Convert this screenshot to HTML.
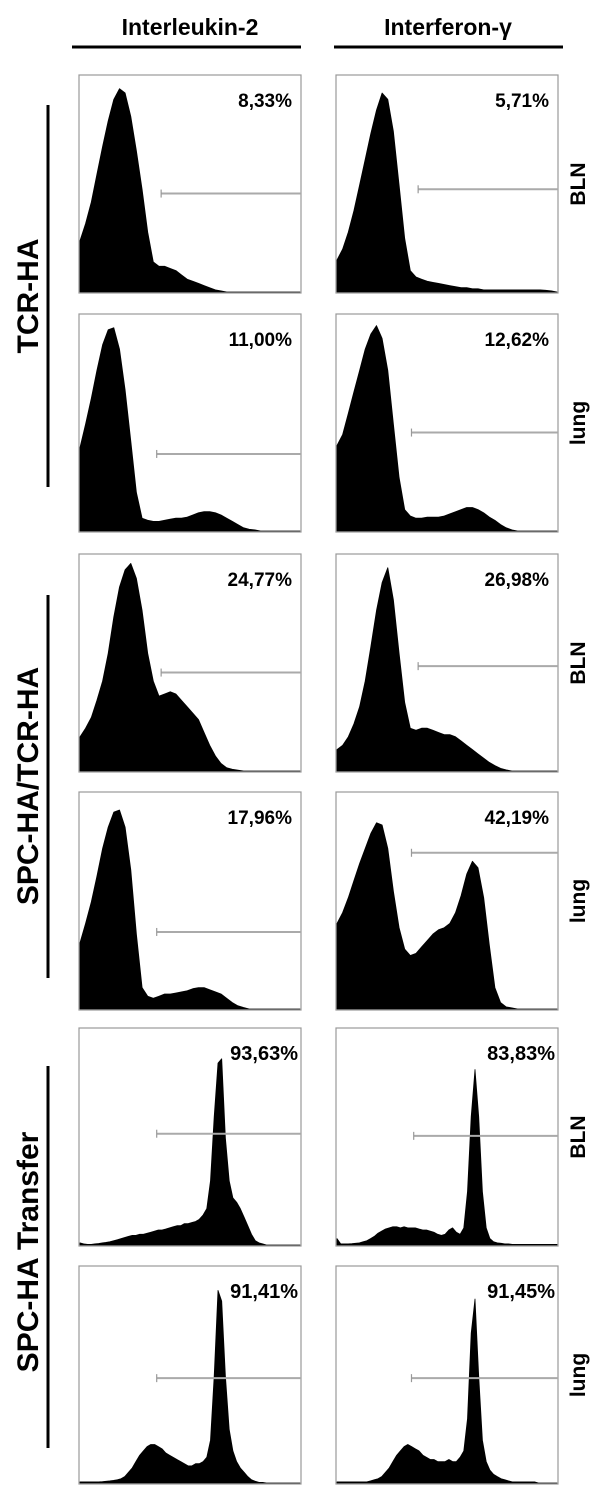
<!DOCTYPE html>
<html><head><meta charset="utf-8"><style>
html,body{margin:0;padding:0;background:#fff;}
svg{display:block;font-family:"Liberation Sans",Arial,sans-serif;}
</style></head><body>
<svg id="fig" width="600" height="1490" viewBox="0 0 600 1490">
<g>
<text x="190" y="35" text-anchor="middle" font-size="23" font-weight="bold">Interleukin-2</text>
<line x1="72" y1="47" x2="301" y2="47" stroke="#000" stroke-width="3"/>
<text x="448" y="35" text-anchor="middle" font-size="23" font-weight="bold">Interferon-γ</text>
<line x1="334" y1="47" x2="563" y2="47" stroke="#000" stroke-width="3"/>
</g>
<g>
<line x1="48" y1="105" x2="48" y2="487" stroke="#000" stroke-width="3"/>
<text transform="translate(38,296) rotate(-90)" text-anchor="middle" font-size="30" font-weight="bold">TCR-HA</text>
<line x1="48" y1="595" x2="48" y2="978" stroke="#000" stroke-width="3"/>
<text transform="translate(38,786) rotate(-90)" text-anchor="middle" font-size="30" font-weight="bold">SPC-HA/TCR-HA</text>
<line x1="48" y1="1066" x2="48" y2="1448" stroke="#000" stroke-width="3"/>
<text transform="translate(38,1252) rotate(-90)" text-anchor="middle" font-size="30" font-weight="bold">SPC-HA Transfer</text>
</g>
<g id="panels"></g>
</svg>
<script>
// Histogram heights (fraction of panel height), uniform bins across the x range
const tcrBlnIl2 = [.24,.32,.42,.55,.68,.80,.90,.95,.93,.82,.66,.48,.28,.14,.12,.12,.11,.10,.08,.06,.05,.04,.03,.02,.01,.005,0,0,0,0,0,0,0,0,0,0,0,0,0,0];
const tcrBlnIfn = [.15,.2,.28,.38,.5,.62,.74,.85,.93,.90,.75,.5,.25,.1,.07,.06,.05,.045,.04,.035,.03,.025,.02,.02,.015,.015,.01,.01,.01,.01,.01,.01,.01,.01,.01,.01,.01,.008,.005,0];
const tcrLungIl2 = [.39,.5,.62,.75,.87,.94,.95,.85,.66,.42,.18,.06,.05,.045,.045,.05,.055,.06,.06,.065,.075,.085,.09,.09,.085,.075,.06,.045,.03,.015,.008,.005,0,0,0,0,0,0,0,0];
const tcrLungIfn = [.4,.45,.55,.65,.75,.85,.92,.96,.9,.75,.5,.25,.1,.07,.06,.06,.065,.065,.065,.07,.08,.09,.1,.11,.11,.1,.085,.065,.05,.03,.015,.005,0,0,0,0,0,0,0,0];
const spcBlnIl2 = [.16,.2,.25,.33,.42,.55,.72,.86,.94,.97,.9,.75,.55,.42,.35,.36,.37,.36,.33,.3,.27,.24,.18,.12,.07,.035,.015,.008,.004,0,0,0,0,0,0,0,0,0,0,0];
const spcBlnIfn = [.1,.12,.16,.22,.3,.42,.58,.75,.88,.95,.8,.55,.32,.2,.19,.2,.2,.19,.18,.17,.17,.16,.14,.12,.1,.08,.06,.04,.025,.012,.005,0,0,0,0,0,0,0,0,0];
const spcLungIl2 = [.31,.4,.5,.62,.75,.85,.92,.93,.85,.65,.35,.1,.06,.05,.06,.07,.07,.075,.08,.085,.095,.1,.1,.09,.08,.07,.05,.03,.015,.007,0,0,0,0,0,0,0,0,0,0];
const spcLungIfn = [.4,.45,.52,.6,.68,.75,.82,.87,.86,.75,.55,.38,.28,.25,.26,.29,.32,.35,.37,.38,.4,.45,.53,.63,.69,.66,.52,.3,.1,.03,.01,.005,0,0,0,0,0,0,0,0];
const trBlnIl2 = [.01,.005,.003,.003,.005,.007,.01,.012,.015,.02,.025,.03,.035,.04,.045,.045,.05,.05,.055,.06,.065,.07,.07,.075,.08,.085,.09,.09,.1,.1,.105,.11,.12,.14,.17,.3,.6,.85,.87,.5,.3,.22,.2,.17,.13,.09,.05,.02,.01,.005,0,0,0,0,0,0,0,0,0,0];
const trBlnIfn = [.03,.005,.005,.005,.006,.008,.01,.015,.02,.03,.04,.055,.065,.075,.08,.085,.085,.08,.085,.08,.08,.08,.075,.07,.07,.065,.06,.05,.045,.05,.07,.08,.06,.05,.08,.25,.6,.82,.6,.25,.08,.03,.015,.01,.008,.005,.005,.003,.003,.003,.003,.003,.003,.003,.003,.003,.003,.003,.003,.003];
const trLungIl2 = [.005,.005,.005,.005,.005,.005,.006,.008,.01,.012,.015,.02,.03,.05,.07,.1,.13,.15,.17,.18,.18,.17,.16,.14,.13,.12,.11,.1,.09,.08,.08,.09,.09,.1,.12,.2,.5,.9,.85,.5,.25,.15,.1,.07,.05,.03,.015,.008,.003,.003,0,0,0,0,0,0,0,0,0,0];
const trLungIfn = [.005,.005,.005,.005,.005,.005,.005,.005,.005,.01,.015,.02,.03,.05,.07,.1,.13,.15,.17,.18,.17,.16,.15,.13,.12,.11,.11,.1,.1,.1,.11,.1,.1,.12,.15,.3,.7,.86,.5,.2,.1,.06,.04,.03,.02,.015,.01,.005,.005,.005,.005,.005,.005,.005,0,0,0,0,0,0];
const percentLabels = ["8,33%","5,71%","11,00%","12,62%","24,77%","26,98%","17,96%","42,19%","93,63%","83,83%","91,41%","91,45%"];
const gateLevels = [.46,.48,.36,.46,.46,.49,.36,.73,.52,.51,.49,.49];   // gate bar height (fraction)
const gateStarts = [.37,.37,.35,.34,.37,.37,.35,.34,.35,.35,.35,.34];   // gate bar left (fraction)
const rowTissue = ["BLN","lung","BLN","lung","BLN","lung"];
const seriesList = [tcrBlnIl2,tcrBlnIfn,tcrLungIl2,tcrLungIfn,spcBlnIl2,spcBlnIfn,spcLungIl2,spcLungIfn,trBlnIl2,trBlnIfn,trLungIl2,trLungIfn];

const NS="http://www.w3.org/2000/svg";
const root=document.getElementById('panels');
const rowTops=[75,314,554,792,1028,1266], colLefts=[79,336], PW=222, PH=218;
function mk(tag,attrs){const e=document.createElementNS(NS,tag);for(const k in attrs)e.setAttribute(k,attrs[k]);return e;}
seriesList.forEach((vals,idx)=>{
  const r=Math.floor(idx/2), c=idx%2;
  const x0=colLefts[c], y0=rowTops[r];
  const xs=i=>x0+1+(PW-2)*i/(vals.length-1);
  const ys=v=>y0+PH-1-(PH-4)*v;
  const g=mk('g',{});
  
  
  const box=mk('rect',{x:x0,y:y0,width:PW,height:PH,fill:'#fff',stroke:'#999','stroke-width':1.2});
  
  
  g.appendChild(box);
  let d='M'+xs(0)+','+(y0+PH-1);
  vals.forEach((v,i)=>{d+=' L'+xs(i).toFixed(1)+','+ys(v).toFixed(1);});
  d+=' L'+xs(vals.length-1)+','+(y0+PH-1)+' Z';
  const p=mk('path',{d:d,fill:'#000',stroke:'#000','stroke-width':0.8,'stroke-linejoin':'round'});
  
  
  g.appendChild(p);
  const gy=ys(gateLevels[idx]), gx=x0+PW*gateStarts[idx];
  const gl=mk('line',{x1:gx,y1:gy,x2:x0+PW,y2:gy,stroke:'#aaa','stroke-width':2});
  
  
  g.appendChild(gl);
  const gt=mk('line',{x1:gx,y1:gy-4,x2:gx,y2:gy+4,stroke:'#999','stroke-width':1.2});
  
  
  g.appendChild(gt);
  const t=mk('text',{x:x0+PW-(r>=4?3:9),y:y0+32,'text-anchor':'end','font-size':r>=4?20:19,'font-weight':'bold'});
  t.textContent=percentLabels[idx];
  
  
  g.appendChild(t);
  root.appendChild(g);
});
rowTissue.forEach((lab,r)=>{
  const t=mk('text',{transform:'translate(585,'+(rowTops[r]+PH*0.5)+') rotate(-90)','text-anchor':'middle','font-size':21,'font-weight':'bold'});
  t.textContent=lab;
  
  
  root.appendChild(t);
});
</script>
</body></html>
